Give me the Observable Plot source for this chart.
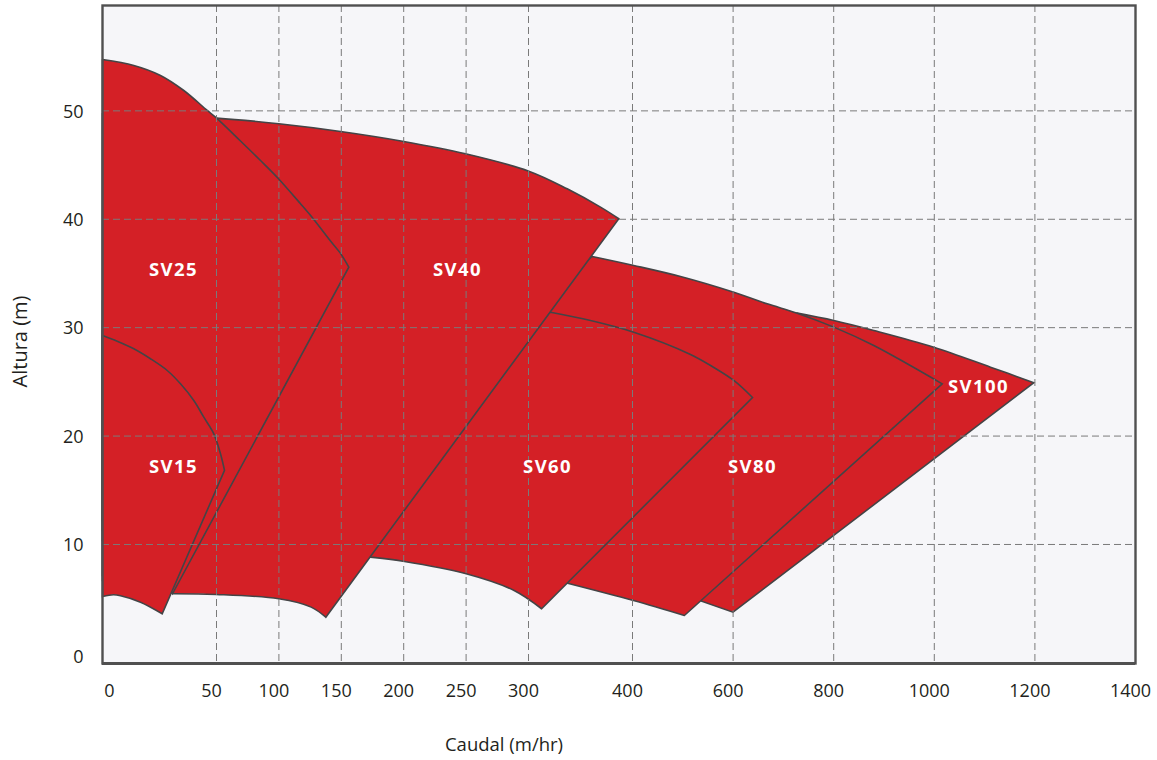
<!DOCTYPE html>
<html>
<head>
<meta charset="utf-8">
<script src="https://cdn.jsdelivr.net/npm/d3@7"></script>
<script src="https://cdn.jsdelivr.net/npm/@observablehq/plot@0.6"></script>
<style>
  body { margin: 0; background: #ffffff; }
  g[font-weight="bold"] text { letter-spacing: 1.4px; }
</style>
</head>
<body>
<div id="chart"></div>
<script>
// Axis ticks
const xTicks = [0, 50, 100, 150, 200, 250, 300, 400, 600, 800, 1000, 1200, 1400];
const yTicks = [0, 10, 20, 30, 40, 50];
const xGrid = [50, 100, 150, 200, 250, 300, 400, 600, 800, 1000, 1200];
const yGrid = [10, 20, 30, 40, 50];

// Pump operating regions as lists of edges; each edge is a list of [caudal, altura] points
const sv100 = [
  [[0,30.66],[654.47,30.66]], [[654.47,30.66],[727.43,31.34]],
  [[727.43,31.34],[800.2,30.66],[879.72,29.74],[999.01,28.20],[1111.73,26.36],[1197.81,24.92]],
  [[1197.81,24.92],[599.8,3.75]],
  [[599.8,3.75],[537.38,4.77]],
  [[537.38,4.77],[495.43,12.21]], [[495.43,12.21],[0,12.21]], [[0,12.21],[0,30.66]]
];
const sv80 = [
  [[0,32.51],[311.54,32.51]], [[311.54,32.51],[361.25,36.57]],
  [[361.25,36.57],[402.58,35.74],[495.43,34.72],[601.39,33.27],[667.79,32.20],[727.43,31.34],[800.2,30.05],[879.72,28.36],[946.12,26.67],[1015.71,24.82]],
  [[1015.71,24.82],[503.18,3.45]],
  [[503.18,3.45],[401.99,4.83],[337.6,6.43]],
  [[337.6,6.43],[311.54,10.37]], [[311.54,10.37],[0,10.37]], [[0,10.37],[0,32.51]]
];
const sv60 = [
  [[0,29.74],[277.56,29.74]], [[277.56,29.74],[321.15,31.43]],
  [[321.15,31.43],[359.62,30.66],[402.58,29.58],[515.31,27.53],[561.63,26.33],[601.39,25.13],[638.57,23.56]],
  [[638.57,23.56],[312.6,4.07]],
  [[312.6,4.07],[288.46,5.76],[250.08,7.30],[199.52,8.46],[173.40,8.83]],
  [[173.40,8.83],[149.36,11.29]], [[149.36,11.29],[0,11.29]], [[0,11.29],[0,29.74]]
];
const sv40 = [
  [[0,49.76],[50.0,49.33],[99.92,48.81],[149.36,48.10],[200.08,47.18],[249.52,46.04],[300.29,44.44],[337.21,42.81],[369.23,41.12],[386.83,40.05]],
  [[386.83,40.05],[137.58,3.29]],
  [[137.58,3.29],[125.88,4.22],[99.84,4.99],[49.91,5.39],[31.14,5.45]],
  [[31.14,5.45],[21.05,6.68]], [[21.05,6.68],[0,6.68]], [[0,6.68],[0,49.76]]
];
const sv25 = [
  [[0,54.74],[13.73,54.19],[25.44,53.27],[35.66,51.88],[45.92,50.04],[49.56,49.42],[69.23,47.22],[85.26,45.42],[99.68,43.74],[117.31,41.43],[127.48,40.05],[141.35,38.00],[149.36,36.85],[156.01,35.58]],
  [[156.01,35.58],[30.70,5.45]],
  [[30.70,5.45],[25.44,7.14]], [[25.44,7.14],[0,7.14]], [[0,7.14],[0,54.74]]
];
const sv15 = [
  [[0,29.28],[6.45,28.75],[13.73,28.05],[21.05,27.13],[28.38,26.05],[34.21,24.82],[40.04,23.28],[44.43,21.74],[48.82,20.21],[53.2,18.37],[56.41,16.83]],
  [[56.41,16.83],[26.18,3.61]],
  [[26.18,3.61],[16.67,4.68],[7.89,5.27],[4.82,5.36],[0,5.20]],
  [[0,5.20],[0,29.28]]
];

// Region labels
const labelNames = ["SV25", "SV15", "SV40", "SV60", "SV80", "SV100"];
const labelX = [31.1, 31.1, 243.1, 318.3, 638.6, 1087.8];
const labelY = [35.28, 17.10, 35.28, 17.10, 17.10, 24.48];

const RED = "#d42026";
const EDGE = "#444446";

// Concatenate edges: shared endpoints appear twice, which keeps corners sharp with catmull-rom
const outline = edges => edges.flat();
const regionMark = edges => Plot.line(outline(edges), {
  x: d => d[0], y: d => d[1], curve: "catmull-rom",
  fill: RED, stroke: EDGE, strokeWidth: 1.6, strokeLinejoin: "miter", strokeMiterlimit: 10
});

const labels = labelNames.map((n, i) => ({n, x: labelX[i], y: labelY[i]}));
const fmt = d => String(d);

const chart = Plot.plot({
  width: 1157,
  height: 760,
  marginLeft: 102,
  marginRight: 22,
  marginTop: 5,
  marginBottom: 97,
  x: {type: "linear", domain: [0, 50, 300, 400, 1400], range: [102, 216, 528, 632, 1135]},
  y: {domain: [-0.98, 59.72]},
  style: {fontFamily: "'Open Sans', sans-serif", fontSize: "18px", color: "#231f20", background: "#ffffff", overflow: "visible"},
  marks: [
    Plot.frame({fill: "#f6f6f9"}),
    regionMark(sv100),
    regionMark(sv80),
    regionMark(sv60),
    regionMark(sv40),
    regionMark(sv25),
    regionMark(sv15),
    Plot.ruleX(xGrid, {stroke: "#7a7a7a", strokeWidth: 1, strokeDasharray: "7,4"}),
    Plot.ruleY(yGrid, {stroke: "#7a7a7a", strokeWidth: 1, strokeDasharray: "7,4"}),
    Plot.text(labels, {x: "x", y: "y", text: "n", fill: "white", fontWeight: "bold", fontSize: 18.5}),
    Plot.axisX(xTicks.slice(0, 1), {tickSize: 0, tickPadding: 21, tickFormat: fmt, dx: 7, label: null}),
    Plot.axisX(xTicks.slice(1), {tickSize: 0, tickPadding: 21, tickFormat: fmt, dx: -5, label: null}),
    Plot.axisY(yTicks.slice(0, 1), {tickSize: 0, tickPadding: 19, dy: 4, label: null}),
    Plot.axisY(yTicks.slice(1), {tickSize: 0, tickPadding: 19, dy: 1, label: null}),
    Plot.text(["Caudal (m/hr)"], {frameAnchor: "bottom", dx: -115, dy: 82, textAnchor: "middle", lineAnchor: "middle", fontSize: 18.5}),
    Plot.text(["Altura (m)"], {frameAnchor: "left", dx: -82, dy: 7, rotate: -90, textAnchor: "middle", lineAnchor: "middle", fontSize: 20}),
    Plot.frame({stroke: "#505050", strokeWidth: 2.4}),
    Plot.ruleY([-0.98], {stroke: "#505050", strokeWidth: 3})
  ]
});
document.getElementById("chart").appendChild(chart);
</script>
</body>
</html>
